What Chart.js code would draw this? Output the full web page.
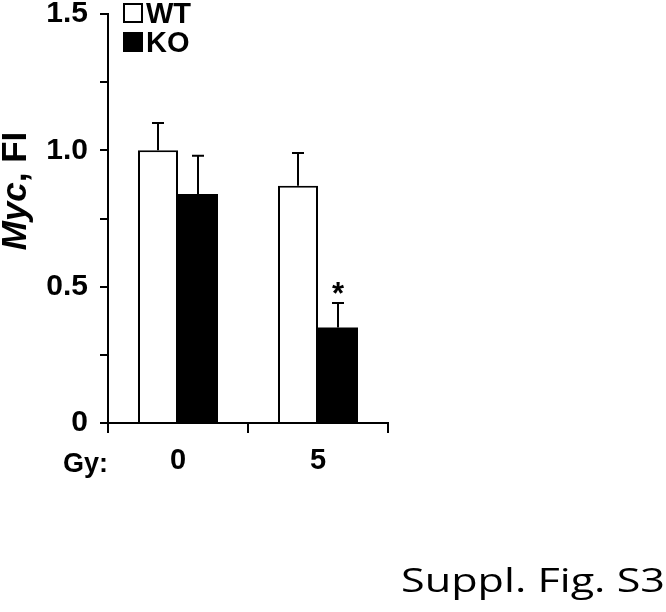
<!DOCTYPE html>
<html><head><meta charset="utf-8">
<script src="https://cdn.jsdelivr.net/npm/chart.js@4"></script>
<style>html,body{margin:0;padding:0;background:#fff}canvas{display:block}</style>
</head><body>
<canvas id="c" width="666" height="612"></canvas>
<script>
const categories = ['0', '5'];
const xAxisPrefix = 'Gy:';
const seriesNames = ['WT', 'KO'];
const wtValues = [1.00, 0.87];
const koValues = [0.84, 0.35];
const wtErrors = [0.10, 0.12];
const koErrors = [0.14, 0.09];
const wtMarks = ['', ''];
const koMarks = ['', '*'];
const yTickValues = [0, 0.5, 1.0, 1.5];
const yTickLabels = ['0', '0.5', '1.0', '1.5'];
const yTitleItalic = 'Myc';
const yTitleRest = ', FI';
const footnote = 'Suppl. Fig. S3';

const FAM = '"Liberation Sans", Arial, sans-serif';

const extrasPlugin = {
  id: 'extras',
  afterDatasetsDraw(chart) {
    const ctx = chart.ctx;
    const ys = chart.scales.y;
    ctx.save();
    chart.data.datasets.forEach((ds, i) => {
      const meta = chart.getDatasetMeta(i);
      meta.data.forEach((el, j) => {
        const v = ds.data[j], e = ds.errors[j];
        const yTop = ys.getPixelForValue(v + e);
        ctx.strokeStyle = '#000';
        ctx.lineWidth = 2;
        ctx.beginPath();
        ctx.moveTo(el.x, el.y);
        ctx.lineTo(el.x, yTop);
        ctx.moveTo(el.x - 6, yTop);
        ctx.lineTo(el.x + 6, yTop);
        ctx.stroke();
        const m = ds.marks[j];
        if (m) {
          ctx.fillStyle = '#000';
          ctx.font = 'bold 31px ' + FAM;
          ctx.textAlign = 'center';
          ctx.textBaseline = 'alphabetic';
          ctx.fillText(m, el.x, yTop + 1);
        }
      });
    });
    ctx.restore();
  },
  afterDraw(chart) {
    const ctx = chart.ctx;
    ctx.save();
    ctx.fillStyle = '#000';
    // legend
    chart.data.datasets.forEach((ds, i) => {
      const by = 3 + i * 29;
      ctx.lineWidth = 2;
      ctx.strokeStyle = '#000';
      ctx.fillStyle = ds.backgroundColor;
      ctx.fillRect(124, by + 1, 18, 18);
      ctx.strokeRect(124, by + 1, 18, 18);
      ctx.fillStyle = '#000';
      ctx.font = 'bold 29px ' + FAM;
      ctx.textAlign = 'left';
      ctx.textBaseline = 'alphabetic';
      ctx.fillText(ds.label, 146, by + 20);
    });
    // x prefix
    ctx.font = 'bold 27px ' + FAM;
    ctx.textAlign = 'right';
    ctx.textBaseline = 'alphabetic';
    ctx.fillText(xAxisPrefix, 108, 472);
    // y title
    ctx.save();
    ctx.translate(26, 191);
    ctx.rotate(-Math.PI / 2);
    const fi = 'italic bold 35px ' + FAM;
    const fb = 'bold 35px ' + FAM;
    ctx.font = fi; const w1 = ctx.measureText(yTitleItalic).width;
    ctx.font = fb; const w2 = ctx.measureText(yTitleRest).width;
    const x0 = -(w1 + w2) / 2;
    ctx.textAlign = 'left';
    ctx.textBaseline = 'alphabetic';
    ctx.font = fi; ctx.fillText(yTitleItalic, x0, 0);
    ctx.font = fb; ctx.fillText(yTitleRest, x0 + w1, 0);
    ctx.restore();
    // footnote (reference text is horizontally stretched)
    ctx.font = '32px "Open Sans", sans-serif';
    const fw = ctx.measureText(footnote).width;
    const sx = 264 / fw;
    ctx.save();
    ctx.translate(665, 592);
    ctx.scale(sx, 1);
    ctx.textAlign = 'right';
    ctx.textBaseline = 'alphabetic';
    ctx.fillText(footnote, 0, 0);
    ctx.restore();
    ctx.restore();
  }
};

function noPad(s) { s.paddingTop = 0; s.paddingBottom = 0; s.paddingLeft = 0; s.paddingRight = 0; }

new Chart(document.getElementById('c'), {
  type: 'bar',
  data: {
    labels: categories,
    datasets: [
      { label: seriesNames[0], data: wtValues, errors: wtErrors, marks: wtMarks,
        backgroundColor: '#ffffff', borderColor: '#000', borderWidth: 2, borderSkipped: 'bottom' },
      { label: seriesNames[1], data: koValues, errors: koErrors, marks: koMarks,
        backgroundColor: '#000000', borderColor: '#000', borderWidth: 0, borderSkipped: 'bottom' }
    ]
  },
  options: {
    responsive: false,
    animation: false,
    devicePixelRatio: 1,
    layout: { padding: { left: 0, top: 14, right: 278, bottom: 0 } },
    datasets: { bar: { categoryPercentage: 80 / 140, barPercentage: 1 } },
    plugins: { legend: { display: false }, tooltip: { enabled: false }, title: { display: false } },
    scales: {
      x: {
        offset: true,
        grid: { display: true, offset: true, drawOnChartArea: false, drawTicks: true, tickLength: 10, color: '#000', lineWidth: 2 },
        border: { display: true, color: '#000', width: 2 },
        ticks: { color: '#000', font: { family: FAM, size: 29, weight: 'bold' }, padding: 11, maxRotation: 0 },
        afterFit(s) { s.height = 189; noPad(s); }
      },
      y: {
        min: 0, max: 1.5,
        grid: { display: true, drawOnChartArea: false, drawTicks: true, tickLength: 8, color: '#000', lineWidth: 2 },
        border: { display: true, color: '#000', width: 2 },
        ticks: {
          stepSize: 0.25, color: '#000', padding: 12,
          font: { family: FAM, size: 30, weight: 'bold' },
          callback(v) { const k = yTickValues.findIndex(t => Math.abs(t - v) < 1e-9); return k >= 0 ? yTickLabels[k] : ''; }
        },
        afterFit(s) { s.width = 108; noPad(s); }
      }
    }
  },
  plugins: [extrasPlugin]
});
</script>
</body></html>
